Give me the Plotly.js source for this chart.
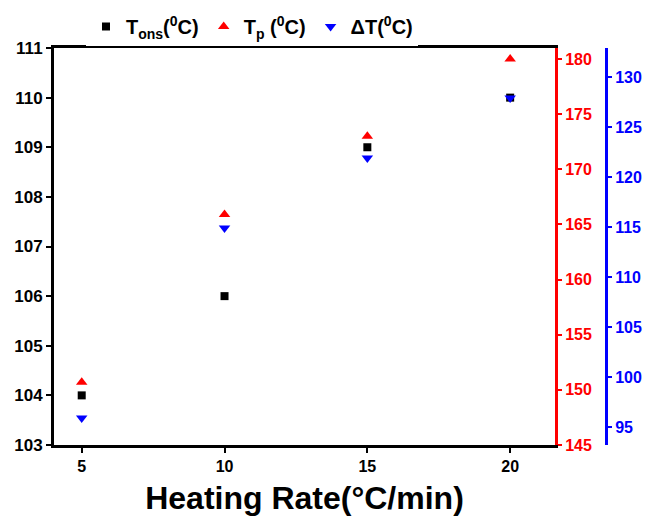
<!DOCTYPE html>
<html>
<head>
<meta charset="utf-8">
<script src="https://cdn.plot.ly/plotly-3.0.1.min.js"></script>
<style>html,body{margin:0;padding:0;background:#fff;}#chart{width:648px;height:521px;}</style>
</head>
<body>
<div id="chart"></div>
<script>
const heatingRate = [5, 10, 15, 20];
const tOns = [104, 106, 109, 110];
const tP = [150.7, 165.9, 173.0, 180.0];
const deltaT = [95.9, 114.9, 121.9, 127.9];
const xTicks = [5, 10, 15, 20];
const yLeftTicks = [103, 104, 105, 106, 107, 108, 109, 110, 111];
const yRedTicks = [145, 150, 155, 160, 165, 170, 175, 180];
const yBlueTicks = [95, 100, 105, 110, 115, 120, 125, 130];

const FONT = 'Arial, "Liberation Sans", sans-serif';
const plotW = 564, plotL = 54;
const xDomEnd = 501 / plotW;
const bluePos = (606 - plotL) / plotW;

const traces = [
  {x: heatingRate, y: tOns, type: 'scatter', mode: 'markers', name: '<b>T<sub>ons</sub>(<sup>0</sup>C)</b>',
   marker: {symbol: 'square', size: 8, color: '#000000'}, xaxis: 'x', yaxis: 'y'},
  {x: heatingRate, y: tP, type: 'scatter', mode: 'markers', name: '<b>T<sub>p</sub> (<sup>0</sup>C)</b>',
   marker: {symbol: 'triangle-up', size: 10, color: '#ff0000'}, xaxis: 'x', yaxis: 'y2'},
  {x: heatingRate, y: deltaT, type: 'scatter', mode: 'markers', name: '<b>ΔT(<sup>0</sup>C)</b>',
   marker: {symbol: 'triangle-down', size: 10, color: '#0000ff'}, xaxis: 'x', yaxis: 'y3'}
];

const layout = {
  width: 648, height: 521,
  margin: {l: plotL, r: 648 - plotL - plotW, t: 48, b: 76},
  paper_bgcolor: '#ffffff', plot_bgcolor: '#ffffff',
  font: {family: FONT, color: '#000'},
  showlegend: true,
  legend: {orientation: 'h', xref: 'container', yref: 'container', x: 252 / 648, xanchor: 'center',
           y: 1 - 7 / 521, yanchor: 'top',
           font: {family: FONT, size: 20, color: '#000'}, itemwidth: 30, traceorder: 'normal'},
  xaxis: {
    domain: [0, xDomEnd], range: [4.03, 21.57], tickvals: xTicks, ticktext: xTicks.map(String),
    showgrid: false, zeroline: false, showline: true, linecolor: '#000', linewidth: 3, mirror: true,
    ticks: 'outside', ticklen: 5, tickwidth: 2, tickcolor: '#000',
    tickfont: {family: FONT, size: 16, color: '#000', weight: 'bold'},
    title: {text: '<b>Heating Rate(°C/min)</b>', font: {family: FONT, size: 32, color: '#000'}, standoff: 13}
  },
  yaxis: {
    range: [103, 111], tickvals: yLeftTicks, ticktext: yLeftTicks.map(String),
    showgrid: false, zeroline: false, showline: true, linecolor: '#000', linewidth: 3,
    ticks: 'outside', ticklen: 5, tickwidth: 2, tickcolor: '#000',
    tickfont: {family: FONT, size: 17, color: '#000', weight: 'bold'}
  },
  yaxis2: {
    overlaying: 'y', side: 'right', anchor: 'x', range: [145, 181],
    tickvals: yRedTicks, ticktext: yRedTicks.map(String),
    showgrid: false, zeroline: false, showline: true, linecolor: '#ff0000', linewidth: 3,
    ticks: 'outside', ticklen: 4, tickwidth: 2, tickcolor: '#ff0000',
    tickfont: {family: FONT, size: 16, color: '#ff0000', weight: 'bold'}
  },
  yaxis3: {
    overlaying: 'y', side: 'right', anchor: 'free', position: bluePos, range: [93.2, 132.9],
    tickvals: yBlueTicks, ticktext: yBlueTicks.map(String),
    showgrid: false, zeroline: false, showline: true, linecolor: '#0000ff', linewidth: 3,
    ticks: 'outside', ticklen: 4, tickwidth: 2, tickcolor: '#0000ff',
    tickfont: {family: FONT, size: 16, color: '#0000ff', weight: 'bold'}
  }
};

Plotly.newPlot('chart', traces, layout, {displayModeBar: false, staticPlot: true});
</script>
</body>
</html>
